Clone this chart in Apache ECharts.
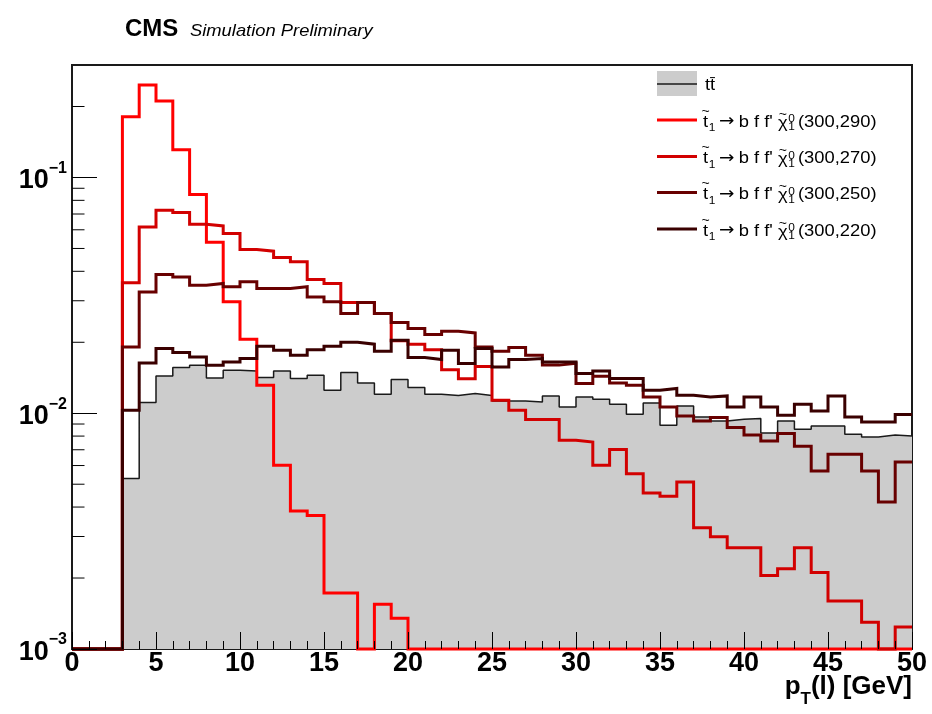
<!DOCTYPE html>
<html>
<head>
<meta charset="utf-8">
<script src="https://cdn.jsdelivr.net/npm/echarts@6/dist/echarts.min.js"></script>
<style>
  html, body { margin: 0; padding: 0; background: #fff; }
  #chart { width: 932px; height: 714px; }
</style>
</head>
<body>
<div id="chart"></div>
<script>
// Lepton pT distributions, 1 GeV bins from 0 to 50 GeV, unit-normalised.
const binLow = [0, 1, 2, 3, 4, 5, 6, 7, 8, 9, 10, 11, 12, 13, 14, 15, 16, 17, 18, 19,
  20, 21, 22, 23, 24, 25, 26, 27, 28, 29, 30, 31, 32, 33, 34, 35, 36, 37, 38, 39,
  40, 41, 42, 43, 44, 45, 46, 47, 48, 49];

const ttbar = [0, 0, 0, 0.00529, 0.0111, 0.0144, 0.01563, 0.01599, 0.01412, 0.01522,
  0.0151, 0.01418, 0.0151, 0.01403, 0.01449, 0.01252, 0.01489, 0.01345, 0.01204, 0.0139,
  0.01285, 0.01204, 0.01189, 0.01212, 0.01189, 0.01128, 0.01128, 0.01117, 0.01184, 0.01063,
  0.01172, 0.01147, 0.01092, 0.0099, 0.01106, 0.0089, 0.01074, 0.00964, 0.00927, 0.00943,
  0.0095, 0.00825, 0.00927, 0.00855, 0.00883, 0.00883, 0.00815, 0.00793, 0.00808, 0.008];

const stop300_290 = [0, 0, 0, 0.181, 0.247, 0.211, 0.131, 0.0847, 0.0531, 0.0297,
  0.0206, 0.01316, 0.00601, 0.00385, 0.00368, 0.00173, 0.00173, 0, 0.00155, 0.00135,
  0, 0, 0, 0, 0, 0, 0, 0, 0, 0,
  0, 0, 0, 0, 0, 0, 0, 0, 0, 0,
  0, 0, 0, 0, 0, 0, 0, 0, 0, 0];

const stop300_270 = [0, 0, 0, 0.0358, 0.0617, 0.0726, 0.071, 0.0634, 0.0623, 0.0578,
  0.0495, 0.0487, 0.0458, 0.0439, 0.0369, 0.0355, 0.0295, 0.0295, 0.0265, 0.0203,
  0.0196, 0.0186, 0.0153, 0.014, 0.0158, 0.01136, 0.0103, 0.0094, 0.0094, 0.00768,
  0.00755, 0.00601, 0.00702, 0.00554, 0.00459, 0.00445, 0.00511, 0.00327, 0.00299, 0.00269,
  0.00269, 0.00205, 0.00219, 0.00269, 0.00211, 0.0016, 0.0016, 0.0013, 0, 0.00124];

const stop300_250 = [0, 0, 0, 0.0191, 0.0327, 0.0388, 0.0378, 0.0349, 0.0355, 0.0344,
  0.0361, 0.0338, 0.0338, 0.0344, 0.0311, 0.0297, 0.0265, 0.0295, 0.0265, 0.02425,
  0.02287, 0.02158, 0.02229, 0.02192, 0.0191, 0.01832, 0.019, 0.01762, 0.016, 0.0163,
  0.01337, 0.01436, 0.01345, 0.01315, 0.01172, 0.01063, 0.00974, 0.00927, 0.0096, 0.0087,
  0.00808, 0.00763, 0.0082, 0.00724, 0.00569, 0.0067, 0.0067, 0.00569, 0.0042, 0.00621];

const stop300_220 = [0, 0, 0, 0.0103, 0.01634, 0.0188, 0.0181, 0.01734, 0.01599, 0.0165,
  0.01706, 0.01925, 0.0185, 0.01762, 0.0186, 0.01925, 0.02, 0.01963, 0.01832, 0.0204,
  0.01723, 0.0169, 0.0185, 0.01625, 0.0188, 0.0157, 0.0169, 0.01706, 0.0165, 0.0165,
  0.01474, 0.01512, 0.01404, 0.01404, 0.01252, 0.01273, 0.01193, 0.01172, 0.01184, 0.01063,
  0.01172, 0.01063, 0.0098, 0.01092, 0.01023, 0.01184, 0.00964, 0.00919, 0.00919, 0.00987];

const signalMasses = ['(300,290)', '(300,270)', '(300,250)', '(300,220)'];
const yMajorTicks = [0.001, 0.01, 0.1];

const X_MIN = 0, X_MAX = 50, Y_MIN = 0.001, Y_MAX = 0.3;
const FONT = '"Liberation Sans", Arial, Helvetica, sans-serif';

const signals = [
  { data: stop300_290, color: '#ff0000' },
  { data: stop300_270, color: '#d20000' },
  { data: stop300_250, color: '#680000' },
  { data: stop300_220, color: '#3a0000' }
];

// Step-histogram points: one point per low bin edge, plus the closing edge.
// Empty bins sit on the frame floor, as a log-scale histogram draws them.
function histPoints(values) {
  const pts = binLow.map((x, i) => [x, values[i] > 0 ? values[i] : Y_MIN]);
  pts.push([X_MAX, pts[pts.length - 1][1]]);
  return pts;
}

const measureCtx = document.createElement('canvas').getContext('2d');
function textWidth(str, font) {
  measureCtx.font = font;
  return measureCtx.measureText(str).width;
}

// Legend label "t~1 -> b f f' chi~0_1 (m_stop,m_lsp)" assembled from pieces so the
// tildes sit above the letters and the chi indices are stacked.
function signalLabelPieces(mass) {
  const main = '17px ' + FONT;
  const idx = '11px ' + FONT;
  const tildeFont = '13px ' + FONT;
  const pieces = [];
  let x = 0;
  const add = (text, font, px, py) => pieces.push({
    type: 'text', x: px, y: py,
    style: { text: text, font: font, fill: '#000', verticalAlign: 'middle', align: 'left' }
  });
  const wt = textWidth('t', main);
  add('t', main, x, 0);
  pieces.push({ type: 'text', x: x + wt / 2, y: -11,
    style: { text: '~', font: tildeFont, fill: '#000', align: 'center', verticalAlign: 'middle' } });
  x += wt;
  add('1', idx, x + 0.5, 6);
  x += textWidth('1', idx) + 4;
  const arrowFont = '17px "DejaVu Sans", ' + FONT;
  add('\u2192', arrowFont, x, 0);
  x += textWidth('\u2192', arrowFont) + 4;
  const mid = "b f f' ";
  add(mid, main, x, 0);
  x += textWidth(mid, main);
  const wchi = textWidth('\u03c7', main);
  add('\u03c7', main, x, 1);
  pieces.push({ type: 'text', x: x + wchi / 2, y: -8,
    style: { text: '~', font: tildeFont, fill: '#000', align: 'center', verticalAlign: 'middle' } });
  x += wchi + 0.5;
  add('0', idx, x, -3);
  add('1', idx, x, 5);
  x += textWidth('0', idx) + 3;
  add(mass, main, x, 0);
  return pieces;
}

const chart = echarts.init(document.getElementById('chart'), null, { renderer: 'canvas' });

const series = [{
  name: 'tt',
  type: 'line',
  step: 'end',
  data: histPoints(ttbar),
  showSymbol: false,
  symbol: 'none',
  clip: false,
  z: 2,
  lineStyle: { color: '#1a1a1a', width: 1.5 },
  areaStyle: { color: '#cccccc', opacity: 1, origin: 'start' }
}].concat(signals.map((s, i) => ({
  name: signalMasses[i],
  type: 'line',
  step: 'end',
  data: histPoints(s.data),
  showSymbol: false,
  symbol: 'none',
  clip: false,
  z: 3 + i,
  lineStyle: { color: s.color, width: 3, join: 'miter' }
})));

const option = {
  animation: false,
  backgroundColor: '#fff',
  grid: {
    left: 72, right: 20, top: 65, bottom: 65,
    show: true, borderColor: '#1a1a1a', borderWidth: 2, backgroundColor: 'transparent'
  },
  xAxis: {
    type: 'value', min: X_MIN, max: X_MAX, interval: 5, z: 10,
    axisLine: { show: false },
    axisTick: { show: true, inside: true, length: 17, lineStyle: { color: '#000', width: 1 } },
    minorTick: { show: true, splitNumber: 5, length: 8, lineStyle: { color: '#000', width: 1 } },
    splitLine: { show: false },
    minorSplitLine: { show: false },
    axisLabel: { fontFamily: FONT, fontSize: 27, fontWeight: 'bold', color: '#000', margin: 1 }
  },
  yAxis: {
    type: 'log', logBase: 10, min: Y_MIN, max: Y_MAX, z: 10,
    axisLine: { show: false },
    axisTick: { show: true, inside: true, length: 25, lineStyle: { color: '#000', width: 1 } },
    splitLine: { show: false },
    axisLabel: {
      showMaxLabel: false,
      margin: 5,
      formatter: v => {
        const e = Math.round(Math.log10(v));
        return '{b|10}{e|\u2212' + Math.abs(e) + '}';
      },
      rich: {
        b: { fontFamily: FONT, fontSize: 27, fontWeight: 'bold', color: '#000', lineHeight: 34, verticalAlign: 'bottom' },
        e: { fontFamily: FONT, fontSize: 16, fontWeight: 'bold', color: '#000', lineHeight: 34, verticalAlign: 'top' }
      }
    }
  },
  series: series
};

chart.setOption(option);

// Log-axis minor ticks at 2..9 x 10^k, placed through the axis scale.
const graphics = [];
const x0 = chart.convertToPixel({ xAxisIndex: 0 }, X_MIN);
yMajorTicks.forEach(base => {
  for (let m = 2; m <= 9; m++) {
    const v = m * base;
    if (v > Y_MAX) break;
    const py = chart.convertToPixel({ yAxisIndex: 0 }, v);
    graphics.push({
      type: 'line', z: 20, silent: true,
      shape: { x1: x0, y1: py, x2: x0 + 12.5, y2: py },
      style: { stroke: '#000', lineWidth: 1 }
    });
  }
});

// Legend
const legX = 657, legW = 40, legTextX = 703;
const legRows = [84, 120, 156.5, 192.5, 229];
graphics.push({
  type: 'rect', z: 20, shape: { x: legX, y: 71, width: legW, height: 25 },
  style: { fill: '#cccccc' }
});
graphics.push({
  type: 'line', z: 21, shape: { x1: legX, y1: legRows[0], x2: legX + legW, y2: legRows[0] },
  style: { stroke: '#1a1a1a', lineWidth: 1.5 }
});
graphics.push({
  type: 'text', z: 21, x: legTextX + 2, y: legRows[0] + 1, scaleX: 1.08,
  style: { text: 'tt\u0304', font: '17px ' + FONT, fill: '#000', verticalAlign: 'middle' }
});
signals.forEach((s, i) => {
  const y = legRows[i + 1];
  graphics.push({
    type: 'line', z: 21, shape: { x1: legX, y1: y, x2: legX + legW, y2: y },
    style: { stroke: s.color, lineWidth: 3 }
  });
  graphics.push({
    type: 'group', z: 21, x: legTextX, y: y + 2, scaleX: 1.08,
    children: signalLabelPieces(signalMasses[i])
  });
});

// Header and axis title
graphics.push({
  type: 'text', z: 21, x: 125, y: 17,
  style: { text: 'CMS', font: 'bold 24px ' + FONT, fill: '#000' }
});
graphics.push({
  type: 'text', z: 21, x: 190, y: 23, scaleX: 1.08,
  style: { text: 'Simulation Preliminary', font: 'italic 17px ' + FONT, fill: '#000' }
});
graphics.push({
  type: 'text', z: 21, x: 912, y: 674,
  style: {
    text: '{b|p}{s|T}{b|(l) [GeV]}',
    align: 'right',
    rich: {
      b: { fontFamily: FONT, fontSize: 26, fontWeight: 'bold', color: '#000', lineHeight: 34, verticalAlign: 'top' },
      s: { fontFamily: FONT, fontSize: 17, fontWeight: 'bold', color: '#000', lineHeight: 34, verticalAlign: 'bottom' }
    }
  }
});

chart.setOption({ graphic: graphics });
</script>
</body>
</html>
